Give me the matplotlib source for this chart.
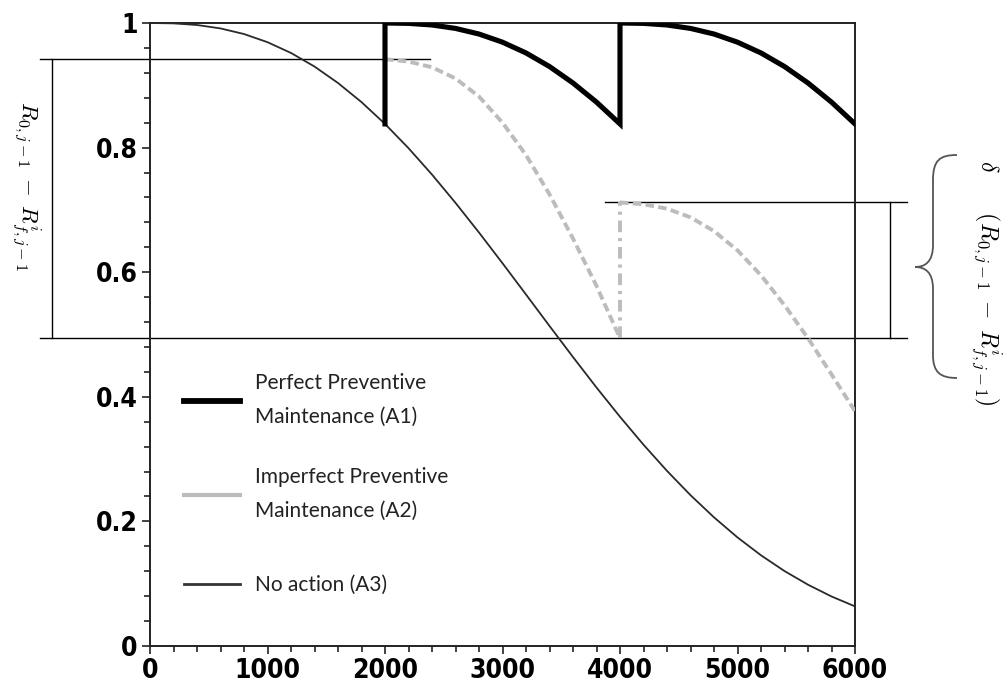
import matplotlib
matplotlib.use("Agg")
import matplotlib.pyplot as plt
from matplotlib import font_manager
from matplotlib.lines import Line2D
from matplotlib.path import Path
from matplotlib.patches import PathPatch

# ---- data (time in hours, reliability) ----
t_a3 = list(range(0, 6001, 200))
r_a3 = [1.0, 0.9994, 0.9968, 0.9913, 0.9823, 0.9692, 0.9519, 0.9301, 0.9037, 0.8730,
        0.8380, 0.7991, 0.7567, 0.7113, 0.6637, 0.6144, 0.5642, 0.5137, 0.4638, 0.4149,
        0.3679, 0.3231, 0.2811, 0.2421, 0.2065, 0.1743, 0.1456, 0.1203, 0.0984, 0.0795,
        0.0636]

pm_times = [2000, 4000]
t_cycle = list(range(0, 2001, 200))
# perfect PM: reliability just before each PM, then one renewed cycle
r_a1_before = [0.838, 0.838]
r_a1_cycle = [1.0, 0.9994, 0.9968, 0.9913, 0.9823, 0.9692, 0.9519, 0.9301, 0.9037,
              0.8730, 0.8380]
# imperfect PM: two cycles after the PMs at 2000 and 4000
r_a2_first = [0.942, 0.938, 0.929, 0.911, 0.882, 0.840, 0.788, 0.725, 0.654, 0.578, 0.494]
r_a2_second = [0.712, 0.709, 0.702, 0.688, 0.666, 0.635, 0.595, 0.547, 0.494, 0.436, 0.377]

labels = ["Perfect Preventive\nMaintenance (A1)",
          "Imperfect Preventive\nMaintenance (A2)",
          "No action (A3)"]

yticks = [0, 0.2, 0.4, 0.6, 0.8, 1]
yticklabels = ["0", "0.2", "0.4", "0.6", "0.8", "1"]
xticks = [0, 1000, 2000, 3000, 4000, 5000, 6000]

# annotation levels
r_top = 0.942      # R_0,j-1
r_low = 0.4936     # R^i_f,j-1
r_delta = 0.7127   # after imperfect PM

# ---- fonts ----
names = {f.name for f in font_manager.fontManager.ttflist}
tick_family = "Liberation Sans Narrow" if "Liberation Sans Narrow" in names else "DejaVu Sans"
legend_family = "Lato" if "Lato" in names else "DejaVu Sans"
plt.rcParams["mathtext.fontset"] = "cm"

W, H = 1008, 689
fig = plt.figure(figsize=(W / 100, H / 100), dpi=100)
ax = fig.add_axes([150 / W, (H - 646) / H, 705 / W, 623 / H])

# curves
ax.plot(t_a3, r_a3, color="#2a2a2a", lw=1.3, zorder=3)

t_a1, r_a1 = [], []
for t0, rb in zip(pm_times, r_a1_before):
    t_a1 += [t0] + [t0 + s for s in t_cycle]
    r_a1 += [rb] + r_a1_cycle
ax.plot(t_a1, r_a1, color="black", lw=3.7, solid_joinstyle="miter", zorder=5)

gray = "#bcbcbc"
ax.plot([pm_times[0] + s for s in t_cycle], r_a2_first, color=gray, lw=2.8,
        ls=(0, (2.2, 1.1)), zorder=4)
ax.plot([pm_times[1] + s for s in t_cycle], r_a2_second, color=gray, lw=2.8,
        ls=(0, (2.2, 1.1)), zorder=4)
ax.plot([pm_times[1], pm_times[1]], [r_a2_first[-1], r_a2_second[0]], color=gray, lw=2.8,
        ls=(0, (3, 1.5, 0.8, 1.5)), zorder=4)

# annotation lines (extend outside the axes)
ax.plot([-936, 2383], [r_top, r_top], color="black", lw=1.0, clip_on=False, zorder=2)
ax.plot([-936, 6443], [r_low, r_low], color="black", lw=1.0, clip_on=False, zorder=2)
ax.plot([-834, -834], [r_low, r_top], color="black", lw=1.0, clip_on=False, zorder=2)
ax.plot([3872, 6443], [r_delta, r_delta], color="black", lw=1.0, clip_on=False, zorder=2)
ax.plot([6298, 6298], [r_low, r_delta], color="black", lw=1.0, clip_on=False, zorder=2)

ax.set_xlim(0, 6000)
ax.set_ylim(0, 1)
ax.set_xticks(xticks)
ax.set_xticks(range(0, 6001, 200), minor=True)
ax.set_yticks(yticks, yticklabels)
ax.set_yticks([i * 0.04 for i in range(26)], minor=True)
for side in ["left", "bottom", "top", "right"]:
    ax.spines[side].set_linewidth(1.4)
    ax.spines[side].set_color("#222222")
ax.tick_params(which="both", direction="out", width=1.2, color="#222222")
ax.tick_params(which="major", length=6, pad=3)
ax.tick_params(which="minor", length=4)
for lab in ax.get_xticklabels() + ax.get_yticklabels():
    lab.set_fontfamily(tick_family)
    lab.set_fontweight("bold")
    lab.set_fontsize(19)
    lab.set_fontstretch("condensed")

# legend: two-line entries in one block, single-line entry in another
handles = [Line2D([], [], color="black", lw=4.2),
           Line2D([], [], color=gray, lw=3.0),
           Line2D([], [], color="#333333", lw=2.0)]
leg_kw = dict(frameon=False, borderpad=0, handlelength=2.66, handletextpad=0.72,
              prop={"family": legend_family, "size": 15}, labelcolor="#222222")
leg1 = fig.legend(handles[:2], labels[:2], loc="center left",
                  bbox_to_anchor=(174 / W, 1 - 447 / H), labelspacing=1.94, **leg_kw)
for txt in leg1.get_texts():
    txt.set_linespacing(1.85)
fig.legend(handles[2:], labels[2:], loc="center left",
           bbox_to_anchor=(174 / W, 1 - 585 / H), **leg_kw)

# rotated math labels
lab_math = r"$R_{0,j-1}\;-\;R^{i}_{f,j-1}$"
fig.text(26 / W, 1 - 186 / H, lab_math, rotation=-90, ha="center", va="center",
         fontsize=16.5)
fig.text(986 / W, 1 - 283 / H, r"$\delta\qquad(R_{0,j-1}\;-\;R^{i}_{f,j-1})$",
         rotation=-90, ha="center", va="center", fontsize=17)

# curly brace on the right
pts = [(957, 155), (940, 155), (933, 160), (933, 180),
       (933, 245),
       (933, 262), (925, 267), (915, 267),
       (925, 267), (933, 272), (933, 289),
       (933, 355),
       (933, 372), (940, 378), (957, 378)]
codes = [Path.MOVETO, Path.CURVE4, Path.CURVE4, Path.CURVE4,
         Path.LINETO,
         Path.CURVE4, Path.CURVE4, Path.CURVE4,
         Path.CURVE4, Path.CURVE4, Path.CURVE4,
         Path.LINETO,
         Path.CURVE4, Path.CURVE4, Path.CURVE4]
brace = Path([(x / W, 1 - y / H) for x, y in pts], codes)
fig.add_artist(PathPatch(brace, fill=False, edgecolor="#555555", lw=1.3,
                         transform=fig.transFigure))

fig.savefig("out.png", dpi=100, facecolor="white")
